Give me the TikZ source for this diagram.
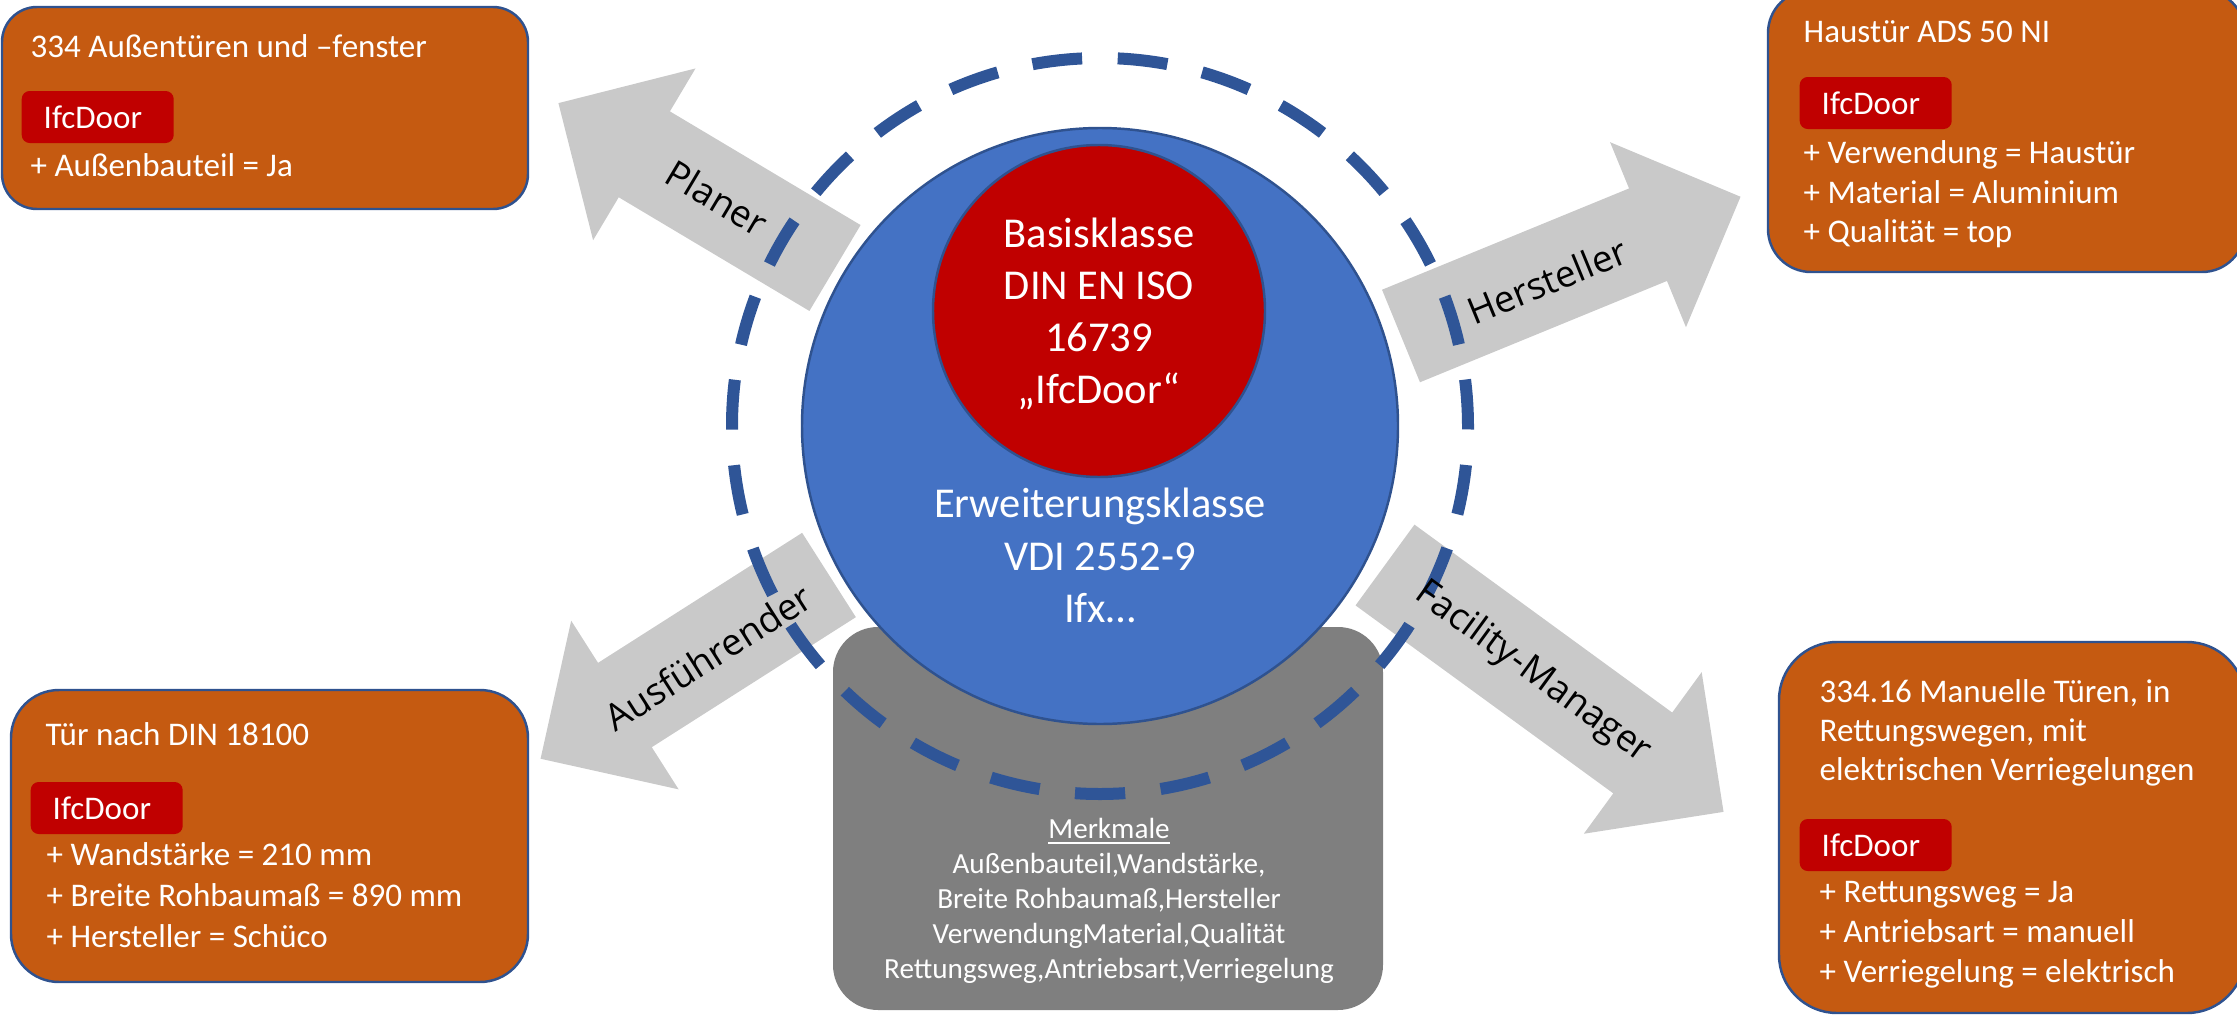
\documentclass[tikz,border=0pt]{standalone}
\usepackage{fontspec}
\setmainfont{Carlito}
\newfontfamily\rolefont{Open Sans}
\usepackage{tikz}

\definecolor{boxorange}{HTML}{C55A11}
\definecolor{boxline}{HTML}{2F528F}
\definecolor{tagred}{HTML}{C00000}
\definecolor{classblue}{HTML}{4472C4}
\definecolor{ringblue}{HTML}{2F5597}
\definecolor{featgray}{HTML}{7F7F7F}
\definecolor{arrowgray}{RGB}{201,201,201}

\newcommand{\boxfont}{\fontsize{9.4}{11.3}\selectfont}
% tail x, tail y, angle, length
\newcommand{\rolearrow}[4]{%
  \fill [arrowgray, shift={(#1,#2)}, rotate=#3] (0,-50) -- ({#4-100},-50) -- ({#4-100},-100) -- (#4,0) -- ({#4-100},100) -- ({#4-100},50) -- (0,50) -- cycle;}

\begin{document}
\begin{tikzpicture}[x=0.1mm, y=-0.1mm,
  infobox/.style={draw=boxline, line width=0.7pt, fill=boxorange, inner sep=0pt},
  ifctag/.style={fill=tagred, rounded corners=0.8mm, text=white, anchor=west, inner xsep=2.2mm, inner ysep=0pt, minimum height=5.2mm, text width=10.8mm, align=left, font=\boxfont},
  attr/.style={text=white, anchor=base west, inner sep=0pt, font=\boxfont},
  classtext/.style={text=white, anchor=base, inner sep=0pt, font=\fontsize{12.1}{14.8}\selectfont},
  feattext/.style={text=white, anchor=base, inner sep=0pt, font=\fontsize{8.3}{10}\selectfont},
  rolelabel/.style={inner sep=0pt, font=\rolefont\fontsize{10.5}{12}\selectfont},
  ring/.style={draw=ringblue, line width=1.2mm, dash pattern=on 5mm off 3.564mm}]
\useasboundingbox (0,0) rectangle (2237,1015);
% Boxes
\node [infobox, rounded corners=3.5mm, minimum width=52.6mm, minimum height=20.2mm] (plan) at (265,108) {};
\node [infobox, rounded corners=4.3mm, minimum width=47.7mm, minimum height=28.2mm] (make) at (2006.5,131) {};
\node [infobox, rounded corners=4.8mm, minimum width=51.7mm, minimum height=29.2mm] (build) at (269.5,836) {};
\node [infobox, rounded corners=5.8mm, minimum width=46.6mm, minimum height=37.1mm] (fm) at (2012,827.5) {};
% Arrows
\rolearrow{835}{268}{149.2}{322}
\rolearrow{1401}{336}{22.3}{367}
\rolearrow{829}{575}{212.5}{342}
\rolearrow{1385}{565}{-36.1}{419}
% Classes
\node [fill=featgray, rounded corners=4.5mm, minimum width=55mm, minimum height=38.3mm] (feat) at (1108,818.5) {};
\node [circle, fill=classblue, draw=boxline, line width=0.7pt, minimum size=59.6mm, inner sep=0pt] (ext) at (1100,426) {};
\node [circle, fill=tagred, draw=boxline, line width=0.7pt, minimum size=33.2mm, inner sep=0pt] (base) at (1099,311) {};
\draw [ring] (ext.center) ++(86.11:368) arc [start angle=86.11, delta angle=360, radius=368];
% Labels
\foreach \txt [count=\i] in {Basisklasse, DIN EN ISO, 16739, „IfcDoor“}
  \node [classtext] (base-\i) at (1099,{195+52*\i}) {\txt};
\foreach \txt [count=\i] in {Erweiterungsklasse, VDI 2552-9, Ifx…}
  \node [classtext] (ext-\i) at (1100,{465+52.5*\i}) {\txt};
\foreach \txt [count=\i] in {\underline{Merkmale}, {Außenbauteil,Wandstärke,}, {Breite Rohbaumaß,Hersteller}, {VerwendungMaterial,Qualität}, {Rettungsweg,Antriebsart,Verriegelung}}
  \node [feattext] (feat-\i) at (1109,{803+35*\i}) {\txt};
\node [rolelabel, rotate=-30.8] (planer) at (717,198) {Planer};
\node [rolelabel, rotate=22.3] (hersteller) at (1547,281) {Hersteller};
\node [rolelabel, rotate=32.5] (ausf) at (708,657) {Ausführender};
\node [rolelabel, rotate=-36.1] (manager) at (1533,673) {Facility-Manager};
% Box texts
\node [attr] (plan-title) at (30,57) {334 Außentüren und –fenster};
\node [ifctag] (plan-tag) at (21,117) {IfcDoor};
\node [attr] (plan-a1) at (30,177) {+ Außenbauteil = Ja};
\node [attr] (make-title) at (1803,43) {Haustür ADS 50 NI};
\node [ifctag] (make-tag) at (1799,103) {IfcDoor};
\node [attr] (make-a1) at (1803,163) {+ Verwendung = Haustür};
\node [attr] (make-a2) at (1803,203) {+ Material = Aluminium};
\node [attr] (make-a3) at (1803,242) {+ Qualität = top};
\node [attr] (build-title) at (45,745) {Tür nach DIN 18100};
\node [ifctag] (build-tag) at (30,808) {IfcDoor};
\node [attr] (build-a1) at (46,865) {+ Wandstärke = 210 mm};
\node [attr] (build-a2) at (46,906) {+ Breite Rohbaumaß = 890 mm};
\node [attr] (build-a3) at (46,947) {+ Hersteller = Schüco};
\node [attr] (fm-t1) at (1819,702) {334.16 Manuelle Türen, in};
\node [attr] (fm-t2) at (1819,741) {Rettungswegen, mit};
\node [attr] (fm-t3) at (1819,780) {elektrischen Verriegelungen};
\node [ifctag] (fm-tag) at (1799,845) {IfcDoor};
\node [attr] (fm-a1) at (1819,902) {+ Rettungsweg = Ja};
\node [attr] (fm-a2) at (1819,942) {+ Antriebsart = manuell};
\node [attr] (fm-a3) at (1819,982) {+ Verriegelung = elektrisch};
\end{tikzpicture}
\end{document}
